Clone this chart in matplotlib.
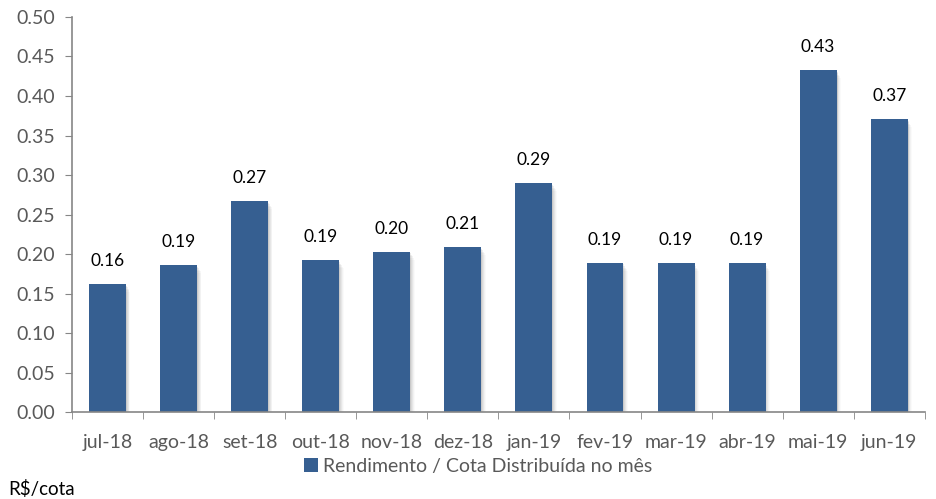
import matplotlib
matplotlib.use("Agg")
import matplotlib.pyplot as plt
import numpy as np

categories = ["jul-18", "ago-18", "set-18", "out-18", "nov-18", "dez-18",
              "jan-19", "fev-19", "mar-19", "abr-19", "mai-19", "jun-19"]
values = [0.162, 0.186, 0.267, 0.192, 0.203, 0.209, 0.290, 0.189, 0.189, 0.189, 0.433, 0.371]
labels = ["0.16", "0.19", "0.27", "0.19", "0.20", "0.21", "0.29", "0.19", "0.19", "0.19", "0.43", "0.37"]
yticks = [0.00, 0.05, 0.10, 0.15, 0.20, 0.25, 0.30, 0.35, 0.40, 0.45, 0.50]
legend_label = "Rendimento / Cota Distribuída no mês"

plt.rcParams['font.family'] = ['Lato', 'DejaVu Sans']

fig = plt.figure(figsize=(9.36, 4.99), dpi=100)
ax = fig.add_axes([0.077, 0.174, 0.911, 0.792])

x = np.arange(len(categories))
color = "#365F91"
width = 0.52

# soft shadow
for i, a in enumerate([0.10, 0.08, 0.06, 0.04, 0.025]):
    off = 0.012 + i * 0.012
    ax.bar(x + off, [v - 0.002 * (i + 1) for v in values], width=width, color="#404040",
           alpha=a, linewidth=0, zorder=1)

bars = ax.bar(x, values, width=width, color=color, linewidth=0, zorder=2, label=legend_label)

for xi, v, lab in zip(x, values, labels):
    ax.text(xi, v + 0.019, lab, ha="center", va="bottom", fontsize=12.5, color="black")

ax.set_xlim(-0.5, len(categories) - 0.5)
ax.set_ylim(0, 0.5)
ax.set_yticks(yticks)
ax.set_yticklabels([f"{t:.2f}" for t in yticks])
ax.set_xticks(x)
ax.set_xticklabels(categories)
ax.set_xticks(np.arange(-0.5, len(categories), 1), minor=True)

grey = "#868686"
lab_grey = "#595959"
for s in ["top", "right"]:
    ax.spines[s].set_visible(False)
for s in ["left", "bottom"]:
    ax.spines[s].set_color(grey)
    ax.spines[s].set_linewidth(1.2)

ax.tick_params(axis="y", direction="out", length=5, color=grey, labelsize=14, labelcolor=lab_grey, pad=7)
ax.tick_params(axis="x", which="major", length=0, labelsize=14, labelcolor=lab_grey, pad=16)
ax.tick_params(axis="x", which="minor", direction="out", length=5, color=grey)

leg = fig.legend(handles=[bars], labels=[legend_label], loc="center", bbox_to_anchor=(0.511, 0.066),
                 frameon=False, fontsize=14, handlelength=0.7, handleheight=0.7, handletextpad=0.3)
for t in leg.get_texts():
    t.set_color(lab_grey)

fig.text(0.009, 0.02, "R$/cota", fontsize=13.5, color="black", ha="left", va="center")

fig.savefig("out.png", dpi=100)
